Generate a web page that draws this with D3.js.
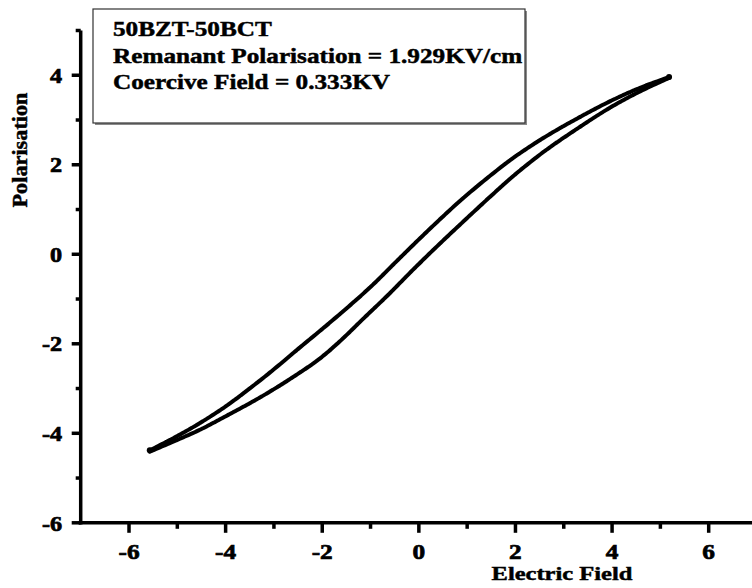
<!DOCTYPE html>
<html>
<head>
<meta charset="utf-8">
<script src="https://cdn.jsdelivr.net/npm/d3@7"></script>
<style>
  html, body { margin: 0; padding: 0; background: #fff; }
  svg { display: block; }
  text { font-family: "Liberation Serif", "Times New Roman", serif; font-weight: bold; fill: #000; stroke: #000; stroke-width: 0.45px; }
  text.lab { stroke-width: 0.7px; }
</style>
</head>
<body>
<svg id="chart" width="752" height="588"></svg>
<script>
// ---- data ----
const upperE = [5.18, 4.58, 3.98, 3.34, 2.61, 1.99, 1.47, 0.85, 0.23, -0.39, -1.01, -1.78, -2.46, -3.08, -3.60, -4.00, -4.53, -5.05, -5.57];
const upperP = [3.96, 3.72, 3.43, 3.07, 2.62, 2.18, 1.75, 1.19, 0.57, -0.08, -0.74, -1.47, -2.08, -2.64, -3.08, -3.40, -3.77, -4.09, -4.38];
const lowerE = [-5.57, -5.05, -4.53, -4.00, -3.29, -2.67, -2.05, -1.64, -1.16, -0.60, -0.19, 0.33, 0.85, 1.47, 1.99, 2.61, 3.34, 3.98, 4.58, 5.18];
const lowerP = [-4.41, -4.17, -3.92, -3.62, -3.20, -2.79, -2.33, -1.95, -1.45, -0.87, -0.42, 0.13, 0.66, 1.28, 1.78, 2.31, 2.85, 3.29, 3.64, 3.94];
const xMajorTicks = [-6, -4, -2, 0, 2, 4, 6];
const xMinorTicks = [-5, -3, -1, 1, 3, 5, 7];
const yMajorTicks = [-6, -4, -2, 0, 2, 4];
const yMinorTicks = [-5, -3, -1, 1, 3, 5];
const infoLines = ["50BZT-50BCT", "Remanant Polarisation = 1.929KV/cm", "Coercive Field = 0.333KV"];
const xTitle = "Electric Field";
const yTitle = "Polarisation";

// ---- layout ----
const svg = d3.select("#chart");
const x = d3.scaleLinear().domain([-7, 7]).range([80.7, 757]);
const y = d3.scaleLinear().domain([-6, 5]).range([522.8, 30.5]);

function stretch(sel, f) {
  sel.each(function () {
    const n = this.getComputedTextLength();
    d3.select(this).attr("textLength", n * f).attr("lengthAdjust", "spacingAndGlyphs");
  });
}

// ---- info box ----
svg.append("rect").attr("x", 95).attr("y", 11).attr("width", 432).attr("height", 114).attr("fill", "#8a8a8a");
svg.append("rect").attr("x", 93).attr("y", 9).attr("width", 432).attr("height", 114)
  .attr("fill", "#fff").attr("stroke", "#333").attr("stroke-width", 1.2);
const infoText = svg.append("g").selectAll("text").data(infoLines).join("text")
  .attr("x", 113).attr("y", (d, i) => 36 + i * 26.5)
  .attr("font-size", 20).text(d => d);
stretch(infoText, 1.26);

// ---- curves ----
const line = d3.line().x(d => x(d[0])).y(d => y(d[1])).curve(d3.curveCatmullRom.alpha(0.5));
const upper = upperE.map((e, i) => [e, upperP[i]]);
const lower = lowerE.map((e, i) => [e, lowerP[i]]);
[upper, lower].forEach(s => {
  svg.append("path").datum(s).attr("d", line)
    .attr("fill", "none").attr("stroke", "#000").attr("stroke-width", 4)
    .attr("stroke-linecap", "round").attr("stroke-linejoin", "round")
    .attr("stroke-dasharray", "3.4 0.8");
});
svg.append("g").selectAll("circle").data([upper[0], upper[upper.length - 1]]).join("circle")
  .attr("cx", d => x(d[0])).attr("cy", d => y(d[1])).attr("r", 3);

// ---- axes ----
const gx = svg.append("g").attr("transform", `translate(0,${y(-6)})`);
gx.append("line").attr("x1", 78.5).attr("x2", 757).attr("stroke", "#000").attr("stroke-width", 3.5);
gx.selectAll(".maj").data(xMajorTicks).join("line").attr("class", "maj")
  .attr("x1", d => x(d)).attr("x2", d => x(d)).attr("y1", 0).attr("y2", 10)
  .attr("stroke", "#000").attr("stroke-width", 3.5);
gx.selectAll(".min").data(xMinorTicks).join("line").attr("class", "min")
  .attr("x1", d => x(d)).attr("x2", d => x(d)).attr("y1", 0).attr("y2", 6)
  .attr("stroke", "#000").attr("stroke-width", 3.5);
const xl = gx.selectAll(".lab").data(xMajorTicks).join("text").attr("class", "lab")
  .attr("x", d => x(d)).attr("y", 36.5).attr("text-anchor", "middle").attr("font-size", 22)
  .text(d => String(d));
stretch(xl, 1.15);

const gy = svg.append("g").attr("transform", `translate(${x(-7)},0)`);
gy.append("line").attr("y1", y(5)).attr("y2", y(-6) + 1.7).attr("stroke", "#000").attr("stroke-width", 3.5);
gy.selectAll(".maj").data(yMajorTicks).join("line").attr("class", "maj")
  .attr("y1", d => y(d)).attr("y2", d => y(d)).attr("x1", 0).attr("x2", -9)
  .attr("stroke", "#000").attr("stroke-width", 3.5);
gy.selectAll(".min").data(yMinorTicks).join("line").attr("class", "min")
  .attr("y1", d => y(d)).attr("y2", d => y(d)).attr("x1", 0).attr("x2", -5)
  .attr("stroke", "#000").attr("stroke-width", 3.5);
const yl = gy.selectAll(".lab").data(yMajorTicks).join("text").attr("class", "lab")
  .attr("x", -18.5).attr("y", d => y(d)).attr("dy", "0.35em").attr("text-anchor", "end").attr("font-size", 22)
  .text(d => String(d));
stretch(yl, 1.1);

// ---- titles ----
const xt = svg.append("text").attr("x", 562).attr("y", 580).attr("text-anchor", "middle")
  .attr("font-size", 19).text(xTitle);
stretch(xt, 1.29);
svg.append("text").attr("transform", "translate(27,150) rotate(-90)").attr("text-anchor", "middle")
  .attr("font-size", 20).attr("textLength", 115).attr("lengthAdjust", "spacingAndGlyphs").text(yTitle);
</script>
</body>
</html>
